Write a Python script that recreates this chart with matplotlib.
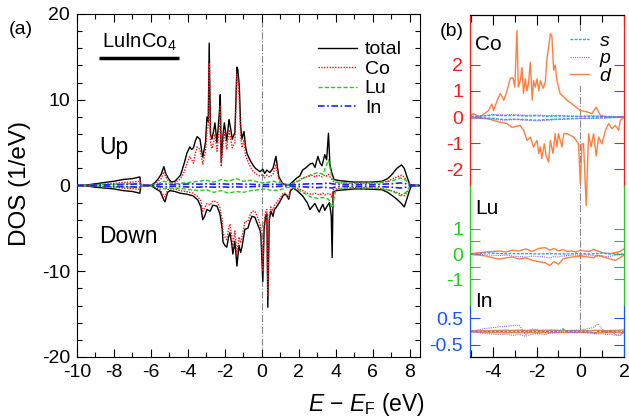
import numpy as np
import matplotlib
matplotlib.use("Agg")
import matplotlib.pyplot as plt
from matplotlib.ticker import MultipleLocator, FixedLocator
from matplotlib.lines import Line2D

plt.rcParams['font.family'] = ['Liberation Sans', 'DejaVu Sans']
plt.rcParams['mathtext.fontset'] = 'custom'
plt.rcParams['mathtext.rm'] = 'Liberation Sans'
plt.rcParams['mathtext.it'] = 'Liberation Sans:italic'
plt.rcParams['axes.unicode_minus'] = False

# ---------------- panel (a) data ----------------
E_up = [-10.0, -9.5, -9.0, -8.5, -8.0, -7.5, -7.0, -6.8, -6.6, -6.55,
        -6.5, -6.0, -5.8, -5.6, -5.45, -5.3, -5.2, -5.05, -4.9, -4.7,
        -4.4, -4.2, -4.05, -3.9, -3.8, -3.7, -3.6, -3.5, -3.35, -3.2,
        -3.05, -2.97, -2.9, -2.85, -2.78, -2.7, -2.6, -2.54, -2.43, -2.3,
        -2.25, -2.2, -2.1, -2.03, -1.9, -1.78, -1.68, -1.6, -1.46, -1.35,
        -1.3, -1.22, -1.15, -1.08, -0.97, -0.88, -0.8, -0.65, -0.49, -0.35,
        -0.22, -0.1, 0.05, 0.15, 0.27, 0.43, 0.6, 0.76, 0.85, 0.92,
        1.05, 1.14, 1.3, 1.5, 1.7, 1.9, 2.05, 2.2, 2.4, 2.6,
        2.75, 2.87, 3.03, 3.15, 3.25, 3.4, 3.5, 3.6, 3.68, 3.78,
        3.9, 4.1, 4.5, 5.0, 5.5, 6.0, 6.5, 6.8, 7.0, 7.3,
        7.55, 7.7, 7.85, 8.0, 8.2, 8.5]
total_up = [0, 0.05, 0.2, 0.35, 0.5, 0.7, 0.8, 0.9, 1.0, 0.1,
            0, 0, 0.3, 0.8, 1.3, 2.2, 1.4, 0.8, 0.4, 0.5,
            1.2, 2.6, 3.8, 4.5, 4.2, 4.4, 5.2, 5.7, 5.4, 3.3,
            5.0, 8.0, 7.5, 16.6, 6.0, 5.4, 6.5, 7.3, 5.0, 8.5,
            10.6, 2.7, 6.0, 7.3, 5.2, 7.7, 6.5, 5.4, 6.2, 13.8,
            13.5, 11.5, 7.0, 5.4, 6.3, 4.5, 3.7, 3.0, 2.4, 2.0,
            1.8, 1.6, 1.9, 1.4, 1.8, 1.5, 2.0, 3.4, 2.0, 1.0,
            0.5, 0.2, 0.1, 0.1, 0.5, 0.9, 1.1, 1.8, 2.1, 2.5,
            2.6, 2.1, 3.4, 2.6, 2.3, 3.6, 3.0, 6.1, 2.4, 1.5,
            0.7, 0.6, 0.5, 0.4, 0.4, 0.4, 0.5, 0.8, 1.2, 2.0,
            2.4, 2.0, 1.0, 0.1, 0, 0]
co_up = [0, 0.02, 0.1, 0.15, 0.25, 0.35, 0.4, 0.45, 0.5, 0.05,
         0, 0, 0.2, 0.5, 0.8, 1.6, 1.0, 0.5, 0.3, 0.3,
         0.8, 1.6, 2.6, 3.4, 3.0, 2.6, 3.8, 4.5, 4.2, 2.5,
         4.0, 6.5, 6.8, 14.3, 5.0, 4.3, 5.2, 6.0, 4.0, 7.0,
         9.2, 2.2, 5.0, 6.2, 4.2, 6.5, 5.3, 4.4, 5.0, 13.0,
         12.6, 10.0, 5.8, 4.4, 5.3, 3.5, 3.0, 2.3, 1.7, 1.4,
         1.2, 1.1, 1.3, 0.9, 1.2, 1.0, 1.3, 2.5, 1.4, 0.7,
         0.3, 0.1, 0.05, 0.05, 0.3, 0.5, 0.6, 0.9, 1.0, 1.1,
         1.2, 1.0, 1.2, 1.1, 1.0, 1.2, 1.1, 1.3, 1.0, 0.7,
         0.4, 0.3, 0.3, 0.25, 0.25, 0.3, 0.35, 0.5, 0.7, 1.0,
         1.2, 1.0, 0.5, 0.05, 0, 0]

E_dn = [-10.0, -9.5, -9.0, -8.5, -8.0, -7.5, -7.0, -6.6, -6.55, -6.5,
        -6.0, -5.8, -5.5, -5.3, -5.24, -5.1, -4.97, -4.7, -4.43, -4.1,
        -3.73, -3.46, -3.3, -3.2, -3.1, -2.97, -2.8, -2.65, -2.43, -2.27,
        -2.15, -2.1, -2.0, -1.9, -1.8, -1.73, -1.62, -1.57, -1.46, -1.35,
        -1.24, -1.15, -1.08, -0.92, -0.76, -0.65, -0.54, -0.38, -0.22, -0.1,
        -0.05, 0.05, 0.12, 0.2, 0.27, 0.32, 0.4, 0.49, 0.6, 0.68,
        0.76, 0.97, 1.14, 1.25, 1.35, 1.45, 1.55, 1.7, 1.9, 2.2,
        2.45, 2.6, 2.75, 2.87, 3.0, 3.1, 3.2, 3.3, 3.4, 3.5,
        3.65, 3.75, 3.8, 3.85, 4.0, 4.5, 5.0, 5.5, 6.0, 6.5,
        6.8, 7.0, 7.3, 7.5, 7.7, 7.85, 8.0, 8.1, 8.5]
total_dn = [0, -0.05, -0.2, -0.3, -0.4, -0.6, -0.7, -0.9, -0.1, 0,
            0, -0.3, -0.7, -1.7, -1.9, -0.8, -0.6, -0.7, -0.9, -1.0,
            -1.2, -1.7, -2.5, -4.0, -3.6, -2.8, -3.0, -2.3, -2.4, -3.3,
            -5.0, -6.6, -7.0, -7.2, -6.0, -5.5, -7.0, -8.0, -6.5, -9.4,
            -7.0, -7.8, -7.2, -5.1, -5.0, -4.2, -3.6, -3.7, -4.6, -5.2,
            -6.0, -11.2, -5.0, -3.6, -3.3, -14.2, -4.0, -3.0, -3.6, -2.8,
            -2.6, -1.9, -1.2, -1.0, -1.2, -1.6, -0.6, -0.3, -0.6, -1.2,
            -2.0, -2.8, -2.4, -2.1, -2.7, -3.1, -2.6, -2.2, -2.9, -2.5,
            -2.0, -3.5, -8.4, -0.8, -0.6, -0.5, -0.4, -0.4, -0.45, -0.5,
            -0.8, -1.1, -1.6, -2.0, -2.5, -1.5, -0.5, 0, 0]
co_dn = [0, -0.02, -0.1, -0.15, -0.2, -0.3, -0.35, -0.45, -0.05, 0,
         0, -0.2, -0.5, -1.2, -1.3, -0.5, -0.4, -0.4, -0.6, -0.7,
         -0.9, -1.3, -1.8, -3.0, -2.6, -2.1, -2.3, -1.8, -1.9, -2.6,
         -4.0, -5.6, -6.0, -6.3, -5.0, -4.5, -6.0, -7.0, -5.3, -8.0,
         -6.0, -6.7, -6.0, -4.2, -4.2, -3.5, -3.0, -3.0, -3.8, -4.5,
         -5.2, -10.0, -4.3, -3.0, -2.8, -13.0, -3.4, -2.5, -3.0, -2.3,
         -2.1, -1.5, -0.9, -0.9, -1.1, -1.4, -0.4, -0.2, -0.3, -0.6,
         -0.9, -1.0, -1.0, -0.9, -1.0, -1.1, -1.0, -0.9, -1.1, -1.0,
         -0.9, -1.2, -1.5, -0.5, -0.4, -0.3, -0.25, -0.25, -0.3, -0.35,
         -0.5, -0.6, -0.8, -1.0, -1.2, -0.8, -0.3, 0, 0]

E_sm = [-10.0, -9.0, -8.0, -7.0, -6.6, -6.5, -6.0, -5.6, -5.3, -5.0,
        -4.6, -4.2, -3.8, -3.4, -3.0, -2.6, -2.2, -1.8, -1.4, -1.0,
        -0.6, -0.2, 0.2, 0.6, 1.0, 1.4, 1.8, 2.2, 2.6, 3.0,
        3.3, 3.6, 3.8, 4.0, 4.5, 5.0, 5.5, 6.0, 6.5, 7.0,
        7.5, 7.8, 8.0, 8.5]
lu_up = [0, 0.1, 0.15, 0.2, 0.25, 0, 0, 0.2, 0.5, 0.3,
         0.2, 0.3, 0.4, 0.5, 0.6, 0.4, 0.7, 0.5, 0.8, 0.5,
         0.6, 0.4, 0.3, 0.5, 0.3, 0.1, 0.3, 0.8, 1.2, 1.5,
         1.3, 3.0, 0.8, 0.4, 0.3, 0.25, 0.3, 0.3, 0.4, 0.5,
         0.9, 0.6, 0.05, 0]
lu_dn = [0, -0.1, -0.15, -0.2, -0.25, 0, 0, -0.2, -0.4, -0.3,
         -0.3, -0.4, -0.5, -0.6, -0.5, -0.8, -0.6, -0.9, -0.7, -0.8,
         -0.6, -0.5, -0.4, -0.6, -0.5, -0.2, -0.3, -0.8, -1.3, -1.5,
         -1.4, -1.6, -2.6, -0.5, -0.3, -0.25, -0.3, -0.3, -0.4, -0.6,
         -1.2, -0.8, -0.1, 0]
in_up = [0, 0.05, 0.1, 0.15, 0.2, 0, 0, 0.1, 0.2, 0.1,
         0.1, 0.15, 0.2, 0.15, 0.2, 0.15, 0.2, 0.15, 0.2, 0.15,
         0.15, 0.1, 0.1, 0.15, 0.1, 0.05, 0.1, 0.15, 0.2, 0.2,
         0.2, 0.3, 0.2, 0.15, 0.1, 0.1, 0.1, 0.1, 0.15, 0.2,
         0.3, 0.2, 0.05, 0]
in_dn = [0, -0.05, -0.1, -0.15, -0.2, 0, 0, -0.1, -0.2, -0.1,
         -0.1, -0.15, -0.2, -0.2, -0.15, -0.2, -0.15, -0.2, -0.15, -0.2,
         -0.15, -0.1, -0.1, -0.15, -0.1, -0.05, -0.1, -0.15, -0.2, -0.25,
         -0.2, -0.25, -0.3, -0.15, -0.1, -0.1, -0.1, -0.1, -0.15, -0.2,
         -0.3, -0.2, -0.05, 0]

# ---------------- panel (b) data ----------------
E_cod_up = [-5.0, -4.9, -4.6, -4.2, -4.05, -3.97, -3.8, -3.66, -3.5, -3.36,
            -3.2, -3.08, -3.0, -2.9, -2.84, -2.75, -2.67, -2.6, -2.52, -2.44,
            -2.37, -2.29, -2.2, -2.14, -2.06, -1.98, -1.9, -1.83, -1.7, -1.6,
            -1.53, -1.37, -1.3, -1.22, -1.15, -1.07, -0.92, -0.61, -0.3, 0.0,
            0.3, 0.53, 0.73, 0.92, 1.22, 1.6, 2.0]
co_d_up = [0.06, 0.13, 0.0, 0.25, 0.5, 0.25, 0.65, 0.9, 0.65, 1.0,
           1.5, 1.5, 1.15, 3.33, 1.15, 1.4, 1.9, 0.9, 1.47, 1.0,
           1.3, 2.1, 0.65, 1.4, 1.15, 1.47, 1.0, 1.4, 1.1, 1.35,
           2.2, 3.2, 3.1, 1.8, 2.0, 1.4, 0.9, 0.65, 0.45, 0.25,
           0.2, 0.13, 0.38, 0.06, 0.0, 0.0, 0.0]
E_cod_dn = [-5.0, -4.27, -3.66, -3.36, -3.13, -2.75, -2.6, -2.44, -2.29, -2.14,
            -1.98, -1.9, -1.83, -1.76, -1.65, -1.56, -1.45, -1.37, -1.25, -1.15,
            -1.07, -1.0, -0.84, -0.76, -0.61, -0.3, -0.08, 0.0, 0.08, 0.15,
            0.27, 0.38, 0.49, 0.61, 0.73, 0.84, 0.99, 1.15, 1.3, 1.45,
            1.6, 1.76, 1.83, 2.0]
co_d_dn = [-0.03, -0.06, -0.2, -0.25, -0.4, -0.32, -0.5, -0.9, -0.77, -1.15,
           -0.9, -1.4, -1.15, -1.6, -1.03, -1.5, -1.73, -0.9, -1.4, -0.64,
           -1.15, -0.64, -1.15, -0.64, -0.64, -0.77, -1.03, -2.56, -1.03, -1.03,
           -3.4, -0.64, -1.15, -0.64, -1.5, -0.77, -1.03, -0.51, -0.25, -0.45,
           -0.32, -0.51, -0.13, 0.0]
E_b = [-5.0, -4.5, -4.0, -3.5, -3.0, -2.5, -2.0, -1.5, -1.0, -0.5, 0.0, 0.5, 1.0, 1.5, 2.0]
co_s_up = [0.02, 0.03, 0.08, 0.05, 0.06, 0.04, 0.05, 0.03, 0.04, 0.03, 0.02, 0.03, 0.02, 0.01, 0.0]
co_s_dn = [-0.02, -0.03, -0.05, -0.1, -0.08, -0.1, -0.12, -0.1, -0.08, -0.06, -0.05, -0.04, -0.03, -0.02, 0.0]
co_p_up = [0.03, 0.05, 0.1, 0.08, 0.1, 0.06, 0.08, 0.05, 0.06, 0.04, 0.03, 0.05, 0.03, 0.02, 0.01]
co_p_dn = [-0.03, -0.05, -0.08, -0.12, -0.1, -0.12, -0.15, -0.12, -0.1, -0.08, -0.06, -0.05, -0.04, -0.02, -0.01]

E_f = [-5.0, -4.6, -4.3, -4.0, -3.7, -3.4, -3.1, -2.8, -2.5, -2.2,
       -1.9, -1.6, -1.4, -1.2, -1.0, -0.8, -0.6, -0.4, -0.2, 0.0,
       0.2, 0.4, 0.6, 0.8, 1.0, 1.2, 1.4, 1.6, 1.8, 2.0]
lu_d_up = [0.02, 0.05, 0.08, 0.1, 0.12, 0.08, 0.15, 0.12, 0.2, 0.1,
           0.22, 0.25, 0.15, 0.22, 0.12, 0.18, 0.1, 0.12, 0.08, 0.15,
           0.12, 0.1, 0.18, 0.12, 0.05, 0.03, 0.02, 0.05, 0.1, 0.2]
lu_d_dn = [-0.02, -0.05, -0.08, -0.15, -0.2, -0.15, -0.12, -0.2, -0.15, -0.25,
           -0.3, -0.35, -0.45, -0.3, -0.4, -0.2, -0.15, -0.12, -0.1, -0.08,
           -0.1, -0.12, -0.15, -0.05, -0.1, -0.15, -0.2, -0.25, -0.15, -0.05]
lu_s = [0.0, 0.02, 0.05, 0.03, 0.02, 0.01, 0.02, 0.01, 0.02, 0.01,
        0.0, 0.01, 0.02, 0.01, 0.0, 0.01, 0.0, 0.01, 0.02, 0.0,
        0.01, 0.0, 0.01, 0.02, 0.05, 0.01, 0.0, 0.01, 0.0, 0.0]
lu_p = [-0.01, -0.02, -0.03, -0.05, -0.06, -0.04, -0.08, -0.1, -0.12, -0.08,
        -0.1, -0.12, -0.15, -0.1, -0.12, -0.08, -0.06, -0.05, -0.04, -0.06,
        -0.03, -0.04, -0.05, -0.08, -0.06, -0.1, -0.08, -0.05, -0.03, -0.02]
in_s = [0.03, 0.0, 0.01, 0.0, 0.01, 0.0, 0.01, 0.0, 0.01, 0.0,
        0.0, 0.01, 0.0, 0.01, 0.0, 0.1, 0.0, 0.01, 0.0, 0.01,
        0.0, 0.02, -0.1, 0.0, 0.01, 0.0, 0.0, 0.01, 0.0, 0.0]
in_p_up = [0.0, 0.08, 0.12, 0.15, 0.18, 0.2, 0.22, 0.25, -0.12, 0.1,
           0.05, -0.05, 0.08, 0.02, 0.05, -0.03, 0.04, 0.02, 0.06, 0.05,
           0.08, 0.12, 0.15, 0.3, 0.1, -0.08, 0.05, -0.12, -0.17, 0.0]
in_p_dn = [-0.02, -0.05, -0.08, -0.1, -0.12, -0.1, -0.15, -0.12, -0.18, -0.1,
           -0.08, -0.12, -0.05, -0.06, -0.04, -0.05, -0.03, -0.04, -0.05, -0.03,
           -0.04, -0.06, -0.05, -0.1, -0.08, -0.12, -0.1, -0.15, -0.12, -0.05]
in_d_up = [0.02, 0.03, 0.03, 0.04, 0.04, 0.05, 0.04, 0.05, 0.04, 0.05,
           0.04, 0.05, 0.04, 0.05, 0.04, 0.04, 0.03, 0.04, 0.03, 0.03,
           0.04, 0.03, 0.04, 0.05, 0.04, 0.03, 0.04, 0.04, 0.05, 0.06]
in_d_dn = [-0.02, -0.03, -0.03, -0.04, -0.04, -0.05, -0.04, -0.05, -0.05, -0.04,
           -0.05, -0.04, -0.05, -0.04, -0.04, -0.03, -0.04, -0.03, -0.03, -0.04,
           -0.03, -0.04, -0.04, -0.05, -0.04, -0.03, -0.04, -0.03, -0.04, -0.05]

# ---------------- styles ----------------
C_TOT = 'black'
C_CO = '#FF1010'
C_LU = '#22CC22'
C_IN = '#2222EE'
C_S = '#1EA8F0'
C_P = '#9966DD'
C_D = '#FF7F40'
RED = '#FF1A1A'
GREEN = '#1ECC1E'
BLUE = '#1A55FF'
FS = 14

fig = plt.figure(figsize=(6.29, 4.19), dpi=100)

# ---------------- panel (a) ----------------
ax = fig.add_axes([0.1224, 0.148, 0.5453, 0.8186])
ax.axvline(0, color='#888888', lw=0.8, ls='-.', zorder=1)
ax.plot(E_up, total_up, color=C_TOT, lw=1.0, zorder=2)
ax.plot(E_dn, total_dn, color=C_TOT, lw=1.0, zorder=2)
ax.plot(E_up, co_up, color=C_CO, lw=1.0, ls=(0, (1, 1)), zorder=3)
ax.plot(E_dn, co_dn, color=C_CO, lw=1.0, ls=(0, (1, 1)), zorder=3)
ax.plot(E_sm, lu_up, color=C_LU, lw=1.0, ls=(0, (3, 1.5)), zorder=4)
ax.plot(E_sm, lu_dn, color=C_LU, lw=1.0, ls=(0, (3, 1.5)), zorder=4)
ax.plot(E_sm, in_up, color=C_IN, lw=1.2, ls=(0, (4, 1.5, 1, 1.5)), zorder=5)
ax.plot(E_sm, in_dn, color=C_IN, lw=1.2, ls=(0, (4, 1.5, 1, 1.5)), zorder=5)
ax.set_xlim(-10, 8.55)
ax.set_ylim(-20, 20)
ax.xaxis.set_major_locator(MultipleLocator(2))
ax.xaxis.set_minor_locator(MultipleLocator(1))
ax.yaxis.set_major_locator(MultipleLocator(10))
ax.yaxis.set_minor_locator(MultipleLocator(2))
ax.tick_params(which='both', direction='in', top=True, right=True, labelsize=FS, width=0.8, pad=5)
ax.tick_params(which='major', length=6)
ax.tick_params(which='minor', length=3.5)
for s in ax.spines.values():
    s.set_linewidth(0.8)
ax.set_ylabel('DOS (1/eV)', fontsize=17.5)
ax.yaxis.set_label_coords(-0.133, 0.505)
ax.set_xlabel(r'$E$ − $E_{\mathrm{F}}$ (eV)', fontsize=16.5)
ax.xaxis.set_label_coords(0.843, -0.1)

handles = [Line2D([], [], color=C_TOT, lw=1.0),
           Line2D([], [], color=C_CO, lw=1.0, ls=(0, (1, 1))),
           Line2D([], [], color=C_LU, lw=1.0, ls=(0, (3, 1.5))),
           Line2D([], [], color=C_IN, lw=1.2, ls=(0, (4, 1.5, 1, 1.5)))]
ax.legend(handles, ['total', 'Co', 'Lu', 'In'], loc='upper left', bbox_to_anchor=(0.703, 0.922),
          frameon=False, fontsize=FS, handlelength=2.0, handletextpad=0.4,
          labelspacing=0.1, borderpad=0, borderaxespad=0)

ax.text(0.073, 0.918, 'LuInCo$_4$', transform=ax.transAxes, fontsize=14.5, va='center', ha='left')
ax.plot([0.065, 0.298], [0.871, 0.871], transform=ax.transAxes, color='black', lw=2.5, solid_capstyle='butt')
ax.text(0.065, 0.61, 'Up', transform=ax.transAxes, fontsize=16.5, va='center', ha='left')
ax.text(0.065, 0.35, 'Down', transform=ax.transAxes, fontsize=16.5, va='center', ha='left')
fig.text(9 / 629, 1 - 29 / 419, '(a)', fontsize=14, va='center', ha='left')

# ---------------- panel (b) ----------------
L, W = 0.7472, 0.2448
axCo = fig.add_axes([L, 0.5561, W, 0.4081])
axLu = fig.add_axes([L, 0.2697, W, 0.2864])
axIn = fig.add_axes([L, 0.148, W, 0.1217])
axLu.patch.set_alpha(0)
axIn.patch.set_alpha(0)

for a in (axCo, axLu, axIn):
    a.set_xlim(-5.05, 2.0)
    a.axvline(0, color='#888888', lw=0.8, ls='-.', zorder=1,
              ymin=(0.5 if a is axIn else 0))
    a.xaxis.set_major_locator(MultipleLocator(2))
    a.xaxis.set_minor_locator(MultipleLocator(1))
    a.tick_params(which='both', direction='in', labelsize=FS, width=0.8, pad=5)
    a.tick_params(axis='x', which='major', length=7)
    a.tick_params(axis='x', which='minor', length=5)
    a.tick_params(axis='y', which='both', length=7, right=True)

# Co
ls_s = (0, (2, 1))
ls_p = (0, (1, 1))
axCo.plot(E_b, co_s_up, color=C_S, lw=1.0, ls=ls_s, zorder=3)
axCo.plot(E_b, co_s_dn, color=C_S, lw=1.0, ls=ls_s, zorder=3)
axCo.plot(E_b, co_p_up, color=C_P, lw=0.8, ls=ls_p, zorder=3)
axCo.plot(E_b, co_p_dn, color=C_P, lw=0.8, ls=ls_p, zorder=3)
axCo.plot(E_cod_up, co_d_up, color=C_D, lw=1.0, zorder=2)
axCo.plot(E_cod_dn, co_d_dn, color=C_D, lw=1.0, zorder=2, clip_on=False)
axCo.set_ylim(-2.65, 3.92)
axCo.set_yticks([-2, -1, 0, 1, 2])
axCo.tick_params(axis='x', which='both', top=True, bottom=False, labelbottom=False)
axCo.tick_params(axis='y', colors=RED)
axCo.spines['bottom'].set_visible(False)
axCo.spines['left'].set_color(RED)
axCo.spines['right'].set_color(RED)

hb = [Line2D([], [], color=C_S, lw=1.0, ls=ls_s),
      Line2D([], [], color=C_P, lw=0.8, ls=ls_p),
      Line2D([], [], color=C_D, lw=1.0)]
lg = axCo.legend(hb, ['s', 'p', 'd'], loc='upper left', bbox_to_anchor=(0.64, 0.905),
                 frameon=True, prop={'style': 'italic', 'size': FS}, handlelength=1.0,
                 handletextpad=0.55, labelspacing=0.0, borderpad=0.05, borderaxespad=0)
lg.get_frame().set_facecolor('white')
lg.get_frame().set_edgecolor('none')
lg.get_frame().set_alpha(1)

# Lu
axLu.plot(E_f, lu_s, color=C_S, lw=1.0, ls=ls_s, zorder=3)
axLu.plot(E_f, lu_p, color=C_P, lw=0.8, ls=ls_p, zorder=3)
axLu.plot(E_f, lu_d_up, color=C_D, lw=1.0, zorder=2)
axLu.plot(E_f, lu_d_dn, color=C_D, lw=1.0, zorder=2)
axLu.set_ylim(-2.04, 2.67)
axLu.yaxis.set_major_locator(FixedLocator([-1, 0, 1]))
axLu.yaxis.set_minor_locator(FixedLocator([-0.5, 0.5]))
axLu.tick_params(axis='x', which='both', top=False, bottom=False, labelbottom=False)
axLu.tick_params(axis='y', which='both', colors=GREEN)
axLu.spines['top'].set_visible(False)
axLu.spines['bottom'].set_visible(False)
axLu.spines['left'].set_color(GREEN)
axLu.spines['right'].set_color(GREEN)

# In
axIn.plot(E_f, in_s, color=C_S, lw=1.0, ls=ls_s, zorder=3)
axIn.plot(E_f, in_p_up, color=C_P, lw=0.8, ls=ls_p, zorder=3)
axIn.plot(E_f, in_p_dn, color=C_P, lw=0.8, ls=ls_p, zorder=3)
axIn.plot(E_f, in_d_up, color=C_D, lw=1.0, zorder=2)
axIn.plot(E_f, in_d_dn, color=C_D, lw=1.0, zorder=2)
axIn.set_ylim(-0.98, 0.98)
axIn.set_yticks([-0.5, 0.5])
axIn.tick_params(axis='x', which='both', top=False, bottom=True)
axIn.tick_params(axis='y', colors=BLUE)
axIn.spines['top'].set_visible(False)
axIn.spines['left'].set_color(BLUE)
axIn.spines['right'].set_color(BLUE)

for a in (axCo, axLu, axIn):
    for s in a.spines.values():
        s.set_linewidth(0.9)

fig.text(440 / 629, 1 - 32 / 419, '(b)', fontsize=14, va='center', ha='left')
fig.text(475 / 629, 1 - 44 / 419, 'Co', fontsize=15, va='center', ha='left')
fig.text(475 / 629, 1 - 208 / 419, 'Lu', fontsize=15, va='center', ha='left')
fig.text(475 / 629, 1 - 301 / 419, 'In', fontsize=15, va='center', ha='left')

fig.savefig('out.png', dpi=100)
